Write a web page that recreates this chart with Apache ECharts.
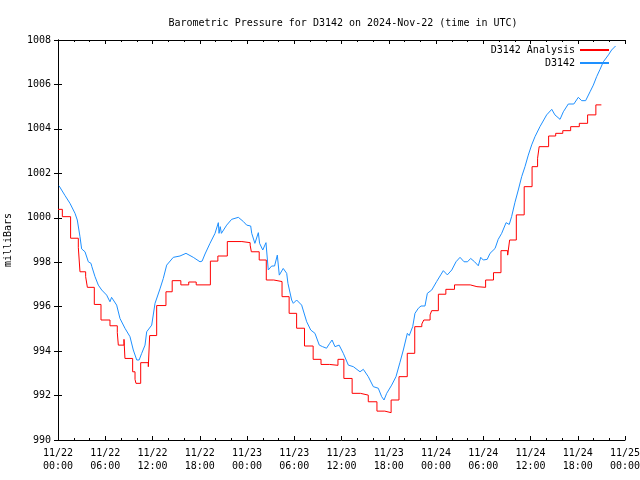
<!DOCTYPE html>
<html>
<head>
<meta charset="utf-8">
<script src="https://cdn.jsdelivr.net/npm/echarts@6/dist/echarts.min.js"></script>
<style>html,body{margin:0;padding:0;background:#fff;}#c{width:640px;height:480px;}</style>
</head>
<body>
<div id="c"></div>
<script>
const titleText = 'Barometric Pressure for D3142 on 2024-Nov-22 (time in UTC)';
const yAxisName = 'milliBars';
const seriesNames = ['D3142 Analysis', 'D3142'];
const xTickLabels = ['11/22\n00:00','11/22\n06:00','11/22\n12:00','11/22\n18:00','11/23\n00:00','11/23\n06:00','11/23\n12:00','11/23\n18:00','11/24\n00:00','11/24\n06:00','11/24\n12:00','11/24\n18:00','11/25\n00:00'];

// hours since 2024-11-22 00:00 UTC (step changes of the analysis)
const redHours = [0,0.55,1.6,2.58,2.79,3.51,3.73,4.61,5.46,6.6,7.53,7.66,8.38,8.5,9.48,9.78,9.9,10.5,11.47,11.64,12.53,13.71,14.5,15.6,16.6,17.55,19.35,20.3,21.5,23.35,24.4,24.55,25.55,26.45,27.4,28.45,29.35,30.3,31.3,32.4,33.4,34.5,35.55,36.3,37.35,38.4,39.4,40.5,41.5,42.3,43.3,44.35,45.3,46.2,46.45,47.25,47.45,48.3,49.25,50.35,52.35,53.2,54.3,55.3,56.25,57.1,57.35,58.2,59.2,60.2,60.9,61.1,62.3,63.2,64.1,65.1,66.2,67.25,68.3,69.0];
const redPressure = [1000.38,1000.05,999.08,998.67,997.57,997.35,996.87,996.1,995.4,995.14,994.83,994.27,994.53,993.67,993.07,992.73,992.55,993.48,993.3,994.7,996.05,996.67,997.17,996.98,997.11,996.98,998.05,998.28,998.93,998.88,998.77,998.47,998.1,997.2,997.13,996.45,995.7,995.03,994.23,993.63,993.4,993.36,993.63,992.77,992.1,992.02,991.72,991.3,991.23,991.8,992.85,993.9,995.1,995.22,995.4,995.63,995.82,996.56,996.78,996.98,996.9,996.87,997.2,997.53,998.52,998.32,999.0,1000.13,1001.4,1002.3,1002.68,1003.2,1003.68,1003.8,1003.92,1004.1,1004.25,1004.63,1005.08,1005.08];

const blueHours = [0.13,0.89,1.52,2.16,2.45,2.79,3.0,3.43,3.85,4.19,4.3,4.7,5.12,5.55,6.18,6.6,6.8,7.45,7.87,8.5,9.14,9.56,10.0,10.3,10.63,11.05,11.26,11.9,12.32,12.95,13.37,13.8,14.64,15.49,15.7,16.25,17.18,18.03,18.3,18.67,19.3,19.94,20.36,20.45,20.6,20.75,21.42,22.05,22.9,23.54,23.96,24.47,24.6,25.0,25.44,25.6,26.0,26.41,26.7,27.13,27.5,27.85,28.1,28.6,29.04,29.2,29.67,29.88,30.3,30.94,31.58,32.09,32.63,33.18,33.6,34.1,34.5,34.8,35.17,35.7,36.23,36.87,37.5,38.35,38.77,39.4,40.04,40.67,41.1,41.4,41.74,42.37,42.92,43.43,43.85,44.36,44.6,45.04,45.33,45.76,46.1,46.6,46.9,47.46,48.08,48.6,48.93,49.44,50.0,50.54,51.05,51.56,52.0,52.4,52.9,53.37,53.68,54.0,54.5,54.86,55.5,55.9,56.34,56.9,57.3,57.6,58.03,58.45,58.88,59.3,59.72,60.15,60.57,61.2,62.05,62.7,63.1,63.75,64.17,64.8,65.5,66.07,66.5,67.0,67.56,67.98,68.4,68.83,69.25,69.9,70.3,70.8];
const bluePressure = [1001.44,1001.0,1000.65,1000.2,999.9,999.15,998.6,998.47,998.02,997.95,997.8,997.35,996.97,996.75,996.52,996.22,996.42,996.07,995.47,995.03,994.65,994.05,993.6,993.6,993.9,994.27,994.87,995.17,996.15,996.8,997.27,997.87,998.22,998.28,998.22,998.4,998.22,998.02,998.05,998.37,998.85,999.3,999.78,999.3,999.6,999.3,999.67,999.93,1000.02,999.83,999.67,999.63,999.3,998.85,999.33,998.85,998.55,998.88,997.65,997.83,997.83,998.32,997.42,997.72,997.5,997.05,996.3,996.15,996.3,996.07,995.32,994.95,994.8,994.27,994.2,994.13,994.35,994.5,994.2,994.27,993.9,993.37,993.3,993.07,993.18,992.85,992.4,992.33,991.95,991.8,992.1,992.47,992.85,993.5,994.05,994.8,994.7,995.1,995.7,995.93,996.03,996.03,996.6,996.75,997.13,997.43,997.62,997.43,997.65,998.02,998.22,998.02,998.02,998.17,998.02,997.84,998.22,998.1,998.13,998.4,998.62,999.03,999.3,999.78,999.7,1000.05,1000.7,1001.25,1001.85,1002.3,1002.82,1003.28,1003.65,1004.1,1004.63,1004.88,1004.63,1004.43,1004.77,1005.12,1005.12,1005.42,1005.27,1005.27,1005.67,1005.97,1006.35,1006.68,1007.02,1007.33,1007.55,1007.73];

const FONT = 'DejaVu Sans Mono';
const redData = redHours.map((h, i) => [h, redPressure[i]]);
const blueData = blueHours.map((h, i) => [h, bluePressure[i]]);

const axLine = { show: true, lineStyle: { color: '#000', width: 1 } };
const chart = echarts.init(document.getElementById('c'), null, { renderer: 'canvas' });
chart.setOption({
  animation: false,
  backgroundColor: '#fff',
  title: {
    text: titleText, left: 338, top: 13, textAlign: 'center',
    textStyle: { fontFamily: FONT, fontSize: 10, fontWeight: 'normal', color: '#000' }
  },
  legend: {
    orient: 'vertical', right: 30, top: 45, align: 'right', padding: 0,
    itemWidth: 29, itemHeight: 10, itemGap: 3,
    itemStyle: { opacity: 0 },
    textStyle: { fontFamily: FONT, fontSize: 10, color: '#000' },
    data: seriesNames
  },
  grid: { left: 58, right: 15, top: 40, bottom: 40, containLabel: false, outerBoundsMode: 'none' },
  xAxis: [{
    type: 'value', min: 0, max: 72, interval: 6,
    axisLine: axLine,
    axisTick: { show: true, inside: true, length: 4, lineStyle: { color: '#000' } },
    minorTick: { show: true, splitNumber: 3, length: 2, lineStyle: { color: '#000' } },
    splitLine: { show: false },
    axisLabel: { margin: 7, fontFamily: FONT, fontSize: 10, color: '#000', lineHeight: 13,
      formatter: v => xTickLabels[Math.round(v / 6)] || '' }
  }, {
    type: 'value', min: 0, max: 72, interval: 6, position: 'top',
    axisLine: axLine,
    axisTick: { show: true, inside: true, length: 4, lineStyle: { color: '#000' } },
    minorTick: { show: true, splitNumber: 3, length: 2, lineStyle: { color: '#000' } },
    splitLine: { show: false }, axisLabel: { show: false }
  }],
  yAxis: [{
    type: 'value', min: 990, max: 1008, interval: 2,
    name: yAxisName, nameLocation: 'middle', nameGap: 45, nameRotate: 90,
    nameTextStyle: { fontFamily: FONT, fontSize: 10, color: '#000' },
    axisLine: axLine,
    axisTick: { show: true, inside: true, length: 4, lineStyle: { color: '#000' } },
    splitLine: { show: false },
    axisLabel: { margin: 7, fontFamily: FONT, fontSize: 10, color: '#000', formatter: v => String(v) }
  }, {
    type: 'value', min: 990, max: 1008, interval: 2, position: 'right',
    axisLine: axLine,
    axisTick: { show: true, inside: true, length: 4, lineStyle: { color: '#000' } },
    splitLine: { show: false }, axisLabel: { show: false }
  }],
  series: [{
    name: seriesNames[0], type: 'line', step: 'end', data: redData,
    symbol: 'none', lineStyle: { color: '#ff0000', width: 1 }, itemStyle: { color: '#ff0000' }
  }, {
    name: seriesNames[1], type: 'line', data: blueData,
    symbol: 'none', lineStyle: { color: '#1e90ff', width: 1 }, itemStyle: { color: '#1e90ff' }
  }]
});
</script>
</body>
</html>
